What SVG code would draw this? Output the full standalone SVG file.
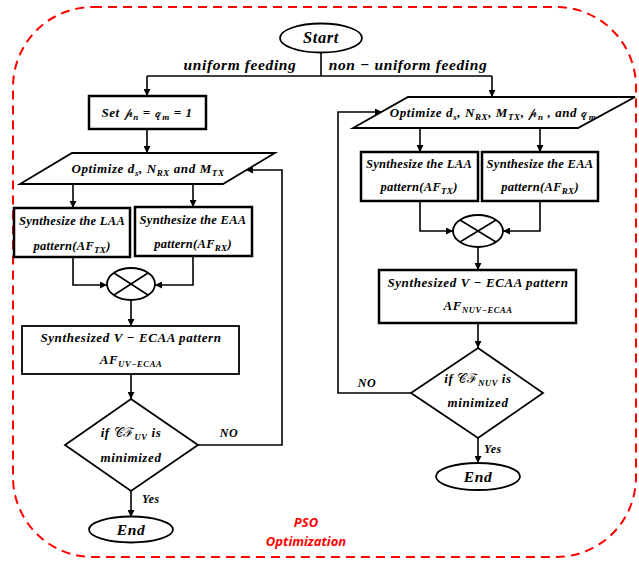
<svg xmlns="http://www.w3.org/2000/svg" width="639" height="561" viewBox="0 0 639 561">
<style>
.t{font-family:"Liberation Serif","Times New Roman",serif;font-weight:bold;font-style:italic;fill:#000;text-anchor:middle;letter-spacing:0.6px}
.s{letter-spacing:0.3px}
.sc{font-family:"DejaVu Serif","Noto Sans",serif;font-style:normal;font-weight:normal}
.box{fill:#fff;stroke:#000;stroke-width:2.5}
.thin{fill:#fff;stroke:#000;stroke-width:1.8}
.ln{fill:none;stroke:#000;stroke-width:1.6}
.pso{font-family:"Open Sans","Liberation Sans",sans-serif;font-weight:bold;font-style:italic;fill:#ff0000;text-anchor:middle;font-size:13px}
</style>
<defs>
<marker id="ah" viewBox="0 0 10 10" refX="10" refY="5" markerWidth="7" markerHeight="7" markerUnits="userSpaceOnUse" orient="auto">
<path d="M0,0 L10,5 L0,10 z" fill="#000"/>
</marker>
</defs>
<rect x="13" y="7" width="623" height="550" rx="80" ry="80" fill="none" stroke="#ff0000" stroke-width="2" stroke-dasharray="9,6"/>
<g id="connectors">
<path class="ln" d="M321,53 V76"/>
<path class="ln" d="M147,76 H492"/>
<path class="ln" d="M147,76 V96" marker-end="url(#ah)"/>
<path class="ln" d="M492,76 V97" marker-end="url(#ah)"/>
<path class="ln" d="M147,129 V153" marker-end="url(#ah)"/>
<path class="ln" d="M73,184 V208" marker-end="url(#ah)"/>
<path class="ln" d="M193,184 V207" marker-end="url(#ah)"/>
<path class="ln" d="M73,257 V285 H107" marker-end="url(#ah)"/>
<path class="ln" d="M193,256 V285 H155" marker-end="url(#ah)"/>
<path class="ln" d="M131,300 V326" marker-end="url(#ah)"/>
<path class="ln" d="M131,374 V399" marker-end="url(#ah)"/>
<path class="ln" d="M198,445 H282 V170 H246" marker-end="url(#ah)"/>
<path class="ln" d="M131,491 V517" marker-end="url(#ah)"/>
<path class="ln" d="M420,128 V152" marker-end="url(#ah)"/>
<path class="ln" d="M540,128 V152" marker-end="url(#ah)"/>
<path class="ln" d="M420,201 V231 H453" marker-end="url(#ah)"/>
<path class="ln" d="M540,201 V231 H503" marker-end="url(#ah)"/>
<path class="ln" d="M478,247 V270" marker-end="url(#ah)"/>
<path class="ln" d="M478,323 V348" marker-end="url(#ah)"/>
<path class="ln" d="M411,393 H338 V112 H382" marker-end="url(#ah)"/>
<path class="ln" d="M478,438 V463" marker-end="url(#ah)"/>
<text class="t" x="240" y="70" font-size="15.5">uniform feeding</text>
<text class="t" x="408" y="70" font-size="15.5">non − uniform feeding</text>
<text class="t" x="229" y="437" font-size="12">NO</text>
<text class="t" x="367" y="387" font-size="12">NO</text>
<text class="t" x="151" y="503" font-size="12">Yes</text>
<text class="t" x="493" y="453" font-size="12">Yes</text>
</g>
<g id="start">
<ellipse class="thin" cx="321" cy="38" rx="41" ry="14.5"/>
<text class="t" x="321" y="43" font-size="16.5">Start</text>
</g>
<g id="set-box">
<rect class="box" x="89" y="96" width="117" height="33"/>
<text class="t" x="147" y="117" font-size="13">Set <tspan class="sc">𝓅</tspan><tspan font-size="9" dy="3">n</tspan><tspan dy="-3"> =  </tspan><tspan class="sc">𝓆</tspan><tspan font-size="9" dy="3">m</tspan><tspan dy="-3"> = 1</tspan></text>
</g>
<g id="opt-left">
<polygon class="thin" points="72,153 275,153 223,184 20,184"/>
<text class="t" x="148" y="173" font-size="13">Optimize d<tspan font-size="9" dy="3">s</tspan><tspan dy="-3">, N</tspan><tspan font-size="9" dy="3">RX</tspan><tspan dy="-3"> and M</tspan><tspan font-size="9" dy="3">TX</tspan></text>
</g>
<g id="laa-left">
<rect class="box" x="14" y="208" width="116" height="49"/>
<text class="t s" x="72" y="225" font-size="12.5">Synthesize the LAA</text>
<text class="t s" x="72" y="250" font-size="12.5">pattern(AF<tspan font-size="9" dy="3">TX</tspan><tspan dy="-3">)</tspan></text>
</g>
<g id="eaa-left">
<rect class="box" x="135" y="207" width="117" height="49"/>
<text class="t s" x="193" y="224" font-size="12.5">Synthesize the EAA</text>
<text class="t s" x="193" y="248" font-size="12.5">pattern(AF<tspan font-size="9" dy="3">RX</tspan><tspan dy="-3">)</tspan></text>
</g>
<g id="mult-left">
<ellipse class="thin" cx="131" cy="284" rx="24" ry="16"/>
<path class="ln" d="M114,273 L148,295 M148,273 L114,295"/>
</g>
<g id="synth-left">
<rect class="thin" x="22" y="326" width="217" height="48"/>
<text class="t" x="131" y="342" font-size="13">Synthesized V − ECAA pattern</text>
<text class="t" x="131" y="364" font-size="13">AF<tspan font-size="8.5" dy="3">UV−ECAA</tspan></text>
</g>
<g id="dec-left">
<polygon class="thin" points="131,399 198,445 131,491 65,445"/>
<text class="t" x="131" y="437" font-size="13">if <tspan class="sc">𝒞ℱ</tspan><tspan font-size="8.5" dy="3">UV</tspan><tspan dy="-3"> is</tspan></text>
<text class="t" x="131" y="462" font-size="13">minimized</text>
</g>
<g id="end-left">
<ellipse class="thin" cx="131" cy="529.5" rx="42" ry="13"/>
<text class="t" x="131" y="535" font-size="15.5">End</text>
</g>
<g id="opt-right">
<polygon class="thin" points="408,97 635,97 578,128 353,128"/>
<text class="t" x="493" y="117" font-size="13">Optimize d<tspan font-size="9" dy="3">s</tspan><tspan dy="-3">, N</tspan><tspan font-size="9" dy="3">RX</tspan><tspan dy="-3">, M</tspan><tspan font-size="9" dy="3">TX</tspan><tspan dy="-3">, </tspan><tspan class="sc">𝓅</tspan><tspan font-size="9" dy="3">n</tspan><tspan dy="-3"> , and </tspan><tspan class="sc">𝓆</tspan><tspan font-size="9" dy="3">m</tspan></text>
</g>
<g id="laa-right">
<rect class="box" x="361" y="152" width="117" height="49"/>
<text class="t s" x="419" y="168" font-size="12.5">Synthesize the LAA</text>
<text class="t s" x="419" y="191" font-size="12.5">pattern(AF<tspan font-size="9" dy="3">TX</tspan><tspan dy="-3">)</tspan></text>
</g>
<g id="eaa-right">
<rect class="box" x="482" y="152" width="116" height="49"/>
<text class="t s" x="540" y="168" font-size="12.5">Synthesize the EAA</text>
<text class="t s" x="540" y="191" font-size="12.5">pattern(AF<tspan font-size="9" dy="3">RX</tspan><tspan dy="-3">)</tspan></text>
</g>
<g id="mult-right">
<ellipse class="thin" cx="478" cy="231" rx="25" ry="16"/>
<path class="ln" d="M460,220 L496,242 M496,220 L460,242"/>
</g>
<g id="synth-right">
<rect class="box" x="379" y="270" width="197" height="53"/>
<text class="t" x="478" y="287" font-size="13">Synthesized V − ECAA pattern</text>
<text class="t" x="478" y="310" font-size="13">AF<tspan font-size="8.5" dy="3">NUV−ECAA</tspan></text>
</g>
<g id="dec-right">
<polygon class="thin" points="478,348 543,393 478,438 411,393"/>
<text class="t" x="478" y="383" font-size="13">if <tspan class="sc">𝒞ℱ</tspan><tspan font-size="8.5" dy="3">NUV</tspan><tspan dy="-3"> is</tspan></text>
<text class="t" x="478" y="407" font-size="13">minimized</text>
</g>
<g id="end-right">
<ellipse class="thin" cx="478" cy="476.5" rx="42" ry="13.5"/>
<text class="t" x="478" y="482" font-size="15.5">End</text>
</g>
<g id="pso-label">
<text class="pso" x="306" y="527">PSO</text>
<text class="pso" x="306" y="546">Optimization</text>
</g>
</svg>
